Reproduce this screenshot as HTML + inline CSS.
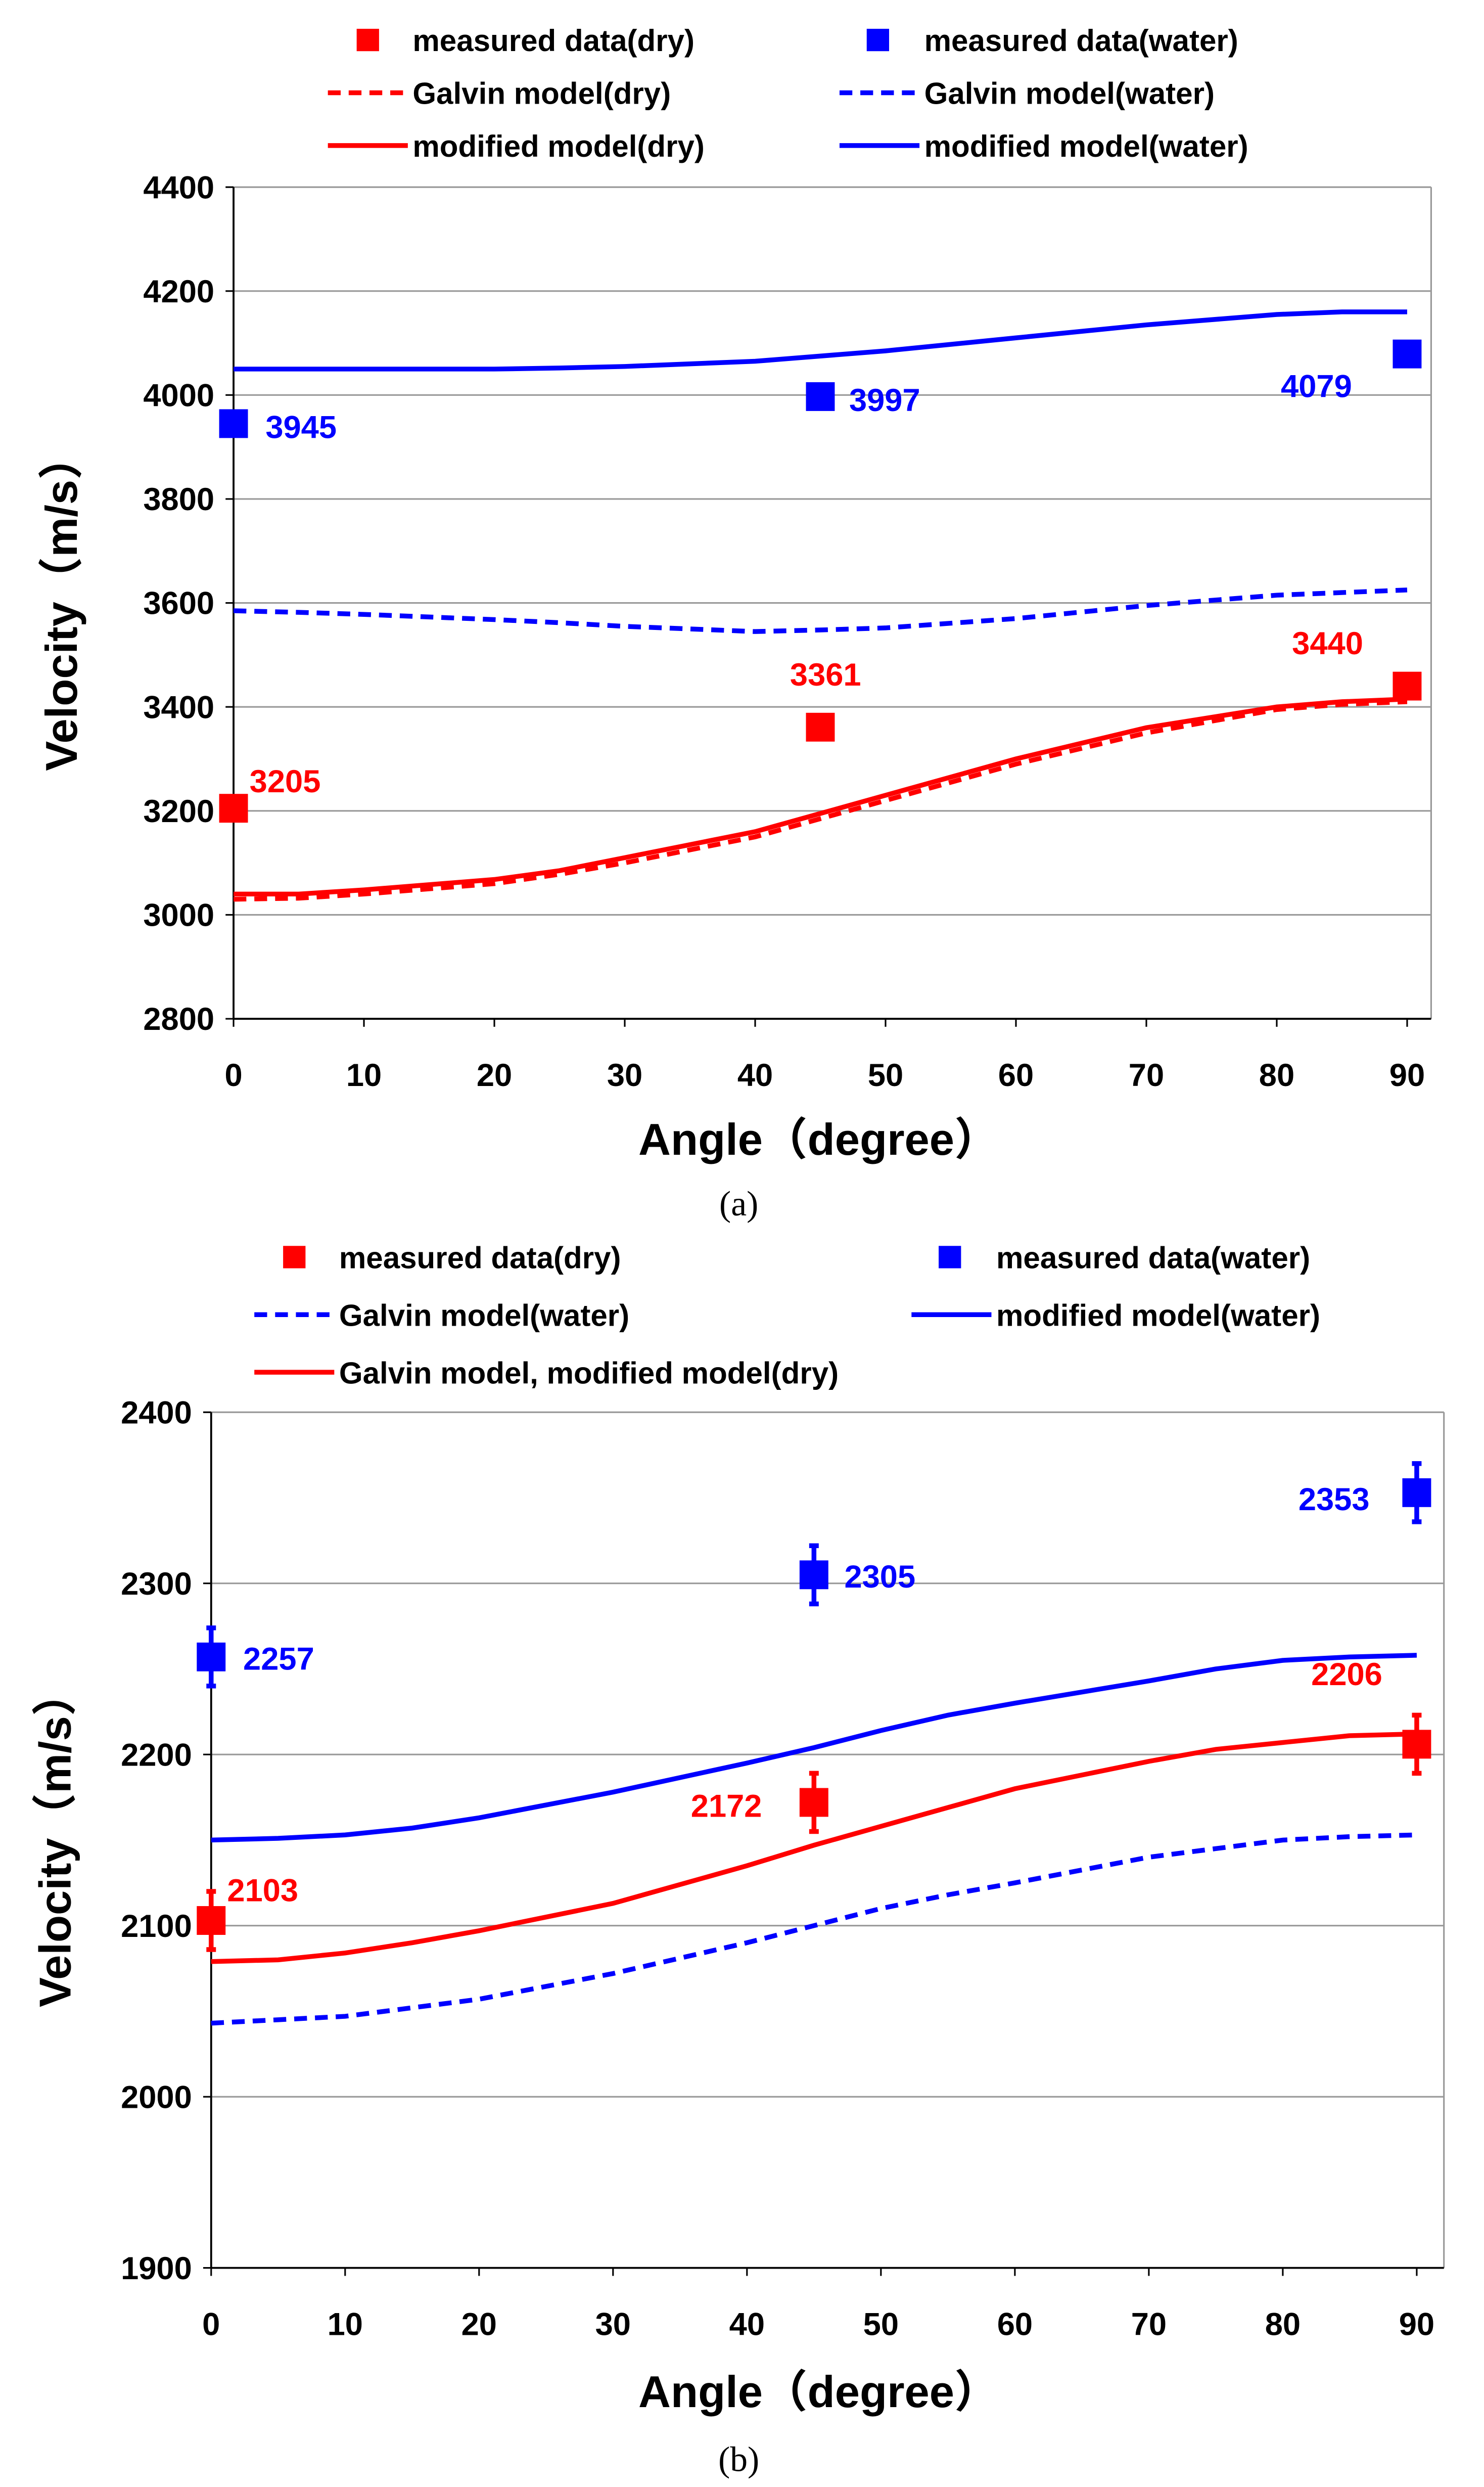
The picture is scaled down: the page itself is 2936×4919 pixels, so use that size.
<!DOCTYPE html>
<html><head><meta charset="utf-8">
<style>
html,body{margin:0;padding:0;background:#fff;}
svg{display:block;}
text{font-family:"Liberation Sans","Noto Sans CJK SC",sans-serif;font-weight:bold;}
</style></head>
<body>
<svg id="fig" width="2936" height="4919" viewBox="0 0 928 1555" xmlns="http://www.w3.org/2000/svg">
<rect width="928" height="1555" fill="#fff"/>
</svg>
<script>
// ---- Chart (a) data ----
const angA = [0,5,10,20,25,30,40,45,50,60,70,80,85,90];
const waterModA = [4050,4050,4050,4050,4052,4055,4065,4075,4085,4110,4135,4155,4160,4160];
const waterGalA = [3585,3582,3578,3568,3562,3555,3545,3548,3552,3570,3595,3615,3620,3625];
const dryModA = [3040,3040,3048,3068,3085,3110,3160,3195,3230,3300,3360,3400,3410,3415];
const dryGalA = [3030,3032,3040,3060,3078,3100,3150,3185,3220,3290,3350,3395,3405,3410];
const measAngA = [0,45,90];
const measDryA = [3205,3361,3440];
const measWaterA = [3945,3997,4079];
const yTicksA = [2800,3000,3200,3400,3600,3800,4000,4200,4400];
const xTicks = [0,10,20,30,40,50,60,70,80,90];
// ---- Chart (b) data ----
const angB = [0,5,10,15,20,30,40,45,50,55,60,70,75,80,85,90];
const waterModB = [2150,2151,2153,2157,2163,2178,2195,2204,2214,2223,2230,2243,2250,2255,2257,2258];
const waterGalB = [2043,2045,2047,2052,2057,2072,2090,2100,2110,2118,2125,2140,2145,2150,2152,2153];
const dryB = [2079,2080,2084,2090,2097,2113,2135,2147,2158,2169,2180,2196,2203,2207,2211,2212];
const measAngB = [0,45,90];
const measDryB = [2103,2172,2206];
const measWaterB = [2257,2305,2353];
const errB = [17,17,17];
const yTicksB = [1900,2000,2100,2200,2300,2400];

const NS="http://www.w3.org/2000/svg";
const svg=document.getElementById('fig');
function mk(tag,attrs,parent){const e=document.createElementNS(NS,tag);for(const k in attrs)e.setAttribute(k,attrs[k]);(parent||svg).appendChild(e);return e;}
function txt(s,x,y,size,fill,anchor,parent){const t=mk('text',{x:x,y:y,'font-size':size,fill:fill||'#000','text-anchor':anchor||'start'},parent);t.textContent=s;return t;}

function chart(cfg){
  const g=mk('g',{});
  
  
  const X=a=>cfg.x0+(a/90)*(cfg.x90-cfg.x0);
  const Y=v=>cfg.bottom-(v-cfg.ymin)/(cfg.ymax-cfg.ymin)*(cfg.bottom-cfg.top);
  // grid
  cfg.yTicks.forEach(v=>{
    if(v!==cfg.ymin){const l=mk('line',{x1:cfg.left,x2:cfg.right,y1:Y(v),y2:Y(v),stroke:'#999','stroke-width':1},g);
    }
    const t=txt(String(v),cfg.left-12,Y(v)+7,20,'#000','end',g);
    
    mk('line',{x1:cfg.left-5,x2:cfg.left,y1:Y(v),y2:Y(v),stroke:'#000','stroke-width':1},g);
  });
  mk('line',{x1:cfg.right,x2:cfg.right,y1:cfg.top,y2:cfg.bottom,stroke:'#999','stroke-width':1},g);
  const ax=mk('line',{x1:cfg.left,x2:cfg.left,y1:cfg.top,y2:cfg.bottom,stroke:'#000','stroke-width':1.2},g);
  
  const bx=mk('line',{x1:cfg.left,x2:cfg.right,y1:cfg.bottom,y2:cfg.bottom,stroke:'#000','stroke-width':1.2},g);
  
  xTicks.forEach(a=>{
    mk('line',{x1:X(a),x2:X(a),y1:cfg.bottom,y2:cfg.bottom+5,stroke:'#000','stroke-width':1},g);
    const t=txt(String(a),X(a),cfg.bottom+42,20,'#000','middle',g);
    
  });
  // series
  cfg.series.forEach(s=>{
    const d=s.ang.map((a,i)=>(i?'L':'M')+X(a).toFixed(2)+','+Y(s.vals[i]).toFixed(2)).join(' ');
    const p=mk('path',{d:d,fill:'none',stroke:s.color,'stroke-width':3,'stroke-dasharray':s.dash||'none'},g);
    
  });
  // markers
  cfg.markers.forEach(m=>{
    m.vals.forEach((v,i)=>{
      const cx=X(m.ang[i]),cy=Y(v);
      if(m.err){
        const e=mk('path',{d:`M${cx},${Y(v-m.err[i])}L${cx},${Y(v+m.err[i])}M${cx-3},${Y(v-m.err[i])}L${cx+3},${Y(v-m.err[i])}M${cx-3},${Y(v+m.err[i])}L${cx+3},${Y(v+m.err[i])}`,stroke:m.color,'stroke-width':3,fill:'none'},g);
        
      }
      const r=mk('rect',{x:cx-9,y:cy-9,width:18,height:18,fill:m.color},g);
      
      const o=m.lab[i];
      const t=txt(String(v),cx+o[0],cy+o[1],20,m.color,'start',g);
      
    });
  });
  // titles
  const xt=txt('Angle（degree）',cfg.xTitle[0],cfg.xTitle[1],28,'#000','middle',g);
  
  const yt=txt('Velocity（m/s）',0,0,28,'#000','middle',g);
  yt.setAttribute('transform',`translate(${cfg.yTitle[0]},${cfg.yTitle[1]}) rotate(-90)`);
  
}

chart({name:'chart-a',left:146,right:895,top:117,bottom:637,x0:146,x90:880,ymin:2800,ymax:4400,yTicks:yTicksA,
  xTitle:[512,722],yTitle:[48,377],
  series:[
    {name:'modified-model-water-line',ang:angA,vals:waterModA,color:'#0000ff'},
    {name:'galvin-model-water-line',ang:angA,vals:waterGalA,color:'#0000ff',dash:'8,5'},
    {name:'modified-model-dry-line',ang:angA,vals:dryModA,color:'#ff0000'},
    {name:'galvin-model-dry-line',ang:angA,vals:dryGalA,color:'#ff0000',dash:'8,5'}],
  markers:[
    {name:'measured-dry-point',ang:measAngA,vals:measDryA,color:'#ff0000',lab:[[10,-10],[-19,-26],[-72,-20]]},
    {name:'measured-water-point',ang:measAngA,vals:measWaterA,color:'#0000ff',lab:[[20,9],[18,9],[-79,27]]}]
});
chart({name:'chart-b',left:132,right:903,top:883,bottom:1418,x0:132,x90:886,ymin:1900,ymax:2400,yTicks:yTicksB,
  xTitle:[512,1505],yTitle:[44,1150],
  series:[
    {name:'modified-model-water-line',ang:angB,vals:waterModB,color:'#0000ff'},
    {name:'galvin-model-water-line',ang:angB,vals:waterGalB,color:'#0000ff',dash:'8,5'},
    {name:'dry-model-line',ang:angB,vals:dryB,color:'#ff0000'}],
  markers:[
    {name:'measured-dry-point',ang:measAngB,vals:measDryB,color:'#ff0000',lab:[[10,-12],[-77,9],[-66,-37]]},
    {name:'measured-water-point',ang:measAngB,vals:measWaterB,color:'#0000ff',lab:[[20,8],[19,8],[-74,11]]},
  ].map((m)=>Object.assign(m,{err:errB}))
});

// legends
function legItem(kind,color,x,y,label,tx,name){
  const g=mk('g',{});
  
  
  if(kind==='sq')mk('rect',{x:x-7,y:y-7,width:14,height:14,fill:color},g);
  else mk('line',{x1:x,x2:x+50,y1:y,y2:y,stroke:color,'stroke-width':3,'stroke-dasharray':kind==='dash'?'8,5':'none'},g);
  txt(label,tx,y+7,19,'#000','start',g);
}
legItem('sq','#ff0000',230,25,'measured data(dry)',258,'legend-measured-dry');
legItem('sq','#0000ff',549,25,'measured data(water)',578,'legend-measured-water');
legItem('dash','#ff0000',205,58,'Galvin model(dry)',258,'legend-galvin-dry');
legItem('dash','#0000ff',525,58,'Galvin model(water)',578,'legend-galvin-water');
legItem('solid','#ff0000',205,91,'modified model(dry)',258,'legend-modified-dry');
legItem('solid','#0000ff',525,91,'modified model(water)',578,'legend-modified-water');

legItem('sq','#ff0000',184,786,'measured data(dry)',212,'legend-measured-dry');
legItem('sq','#0000ff',594,786,'measured data(water)',623,'legend-measured-water');
legItem('dash','#0000ff',159,822,'Galvin model(water)',212,'legend-galvin-water');
legItem('solid','#0000ff',570,822,'modified model(water)',623,'legend-modified-water');
legItem('solid','#ff0000',159,858,'Galvin model, modified model(dry)',212,'legend-dry-models');

const ca=txt('(a)',462,760,22,'#000','middle');ca.setAttribute('style','font-family:"Liberation Serif",serif;font-weight:normal');

const cb=txt('(b)',462,1545,22,'#000','middle');cb.setAttribute('style','font-family:"Liberation Serif",serif;font-weight:normal');

</script>
</body></html>
